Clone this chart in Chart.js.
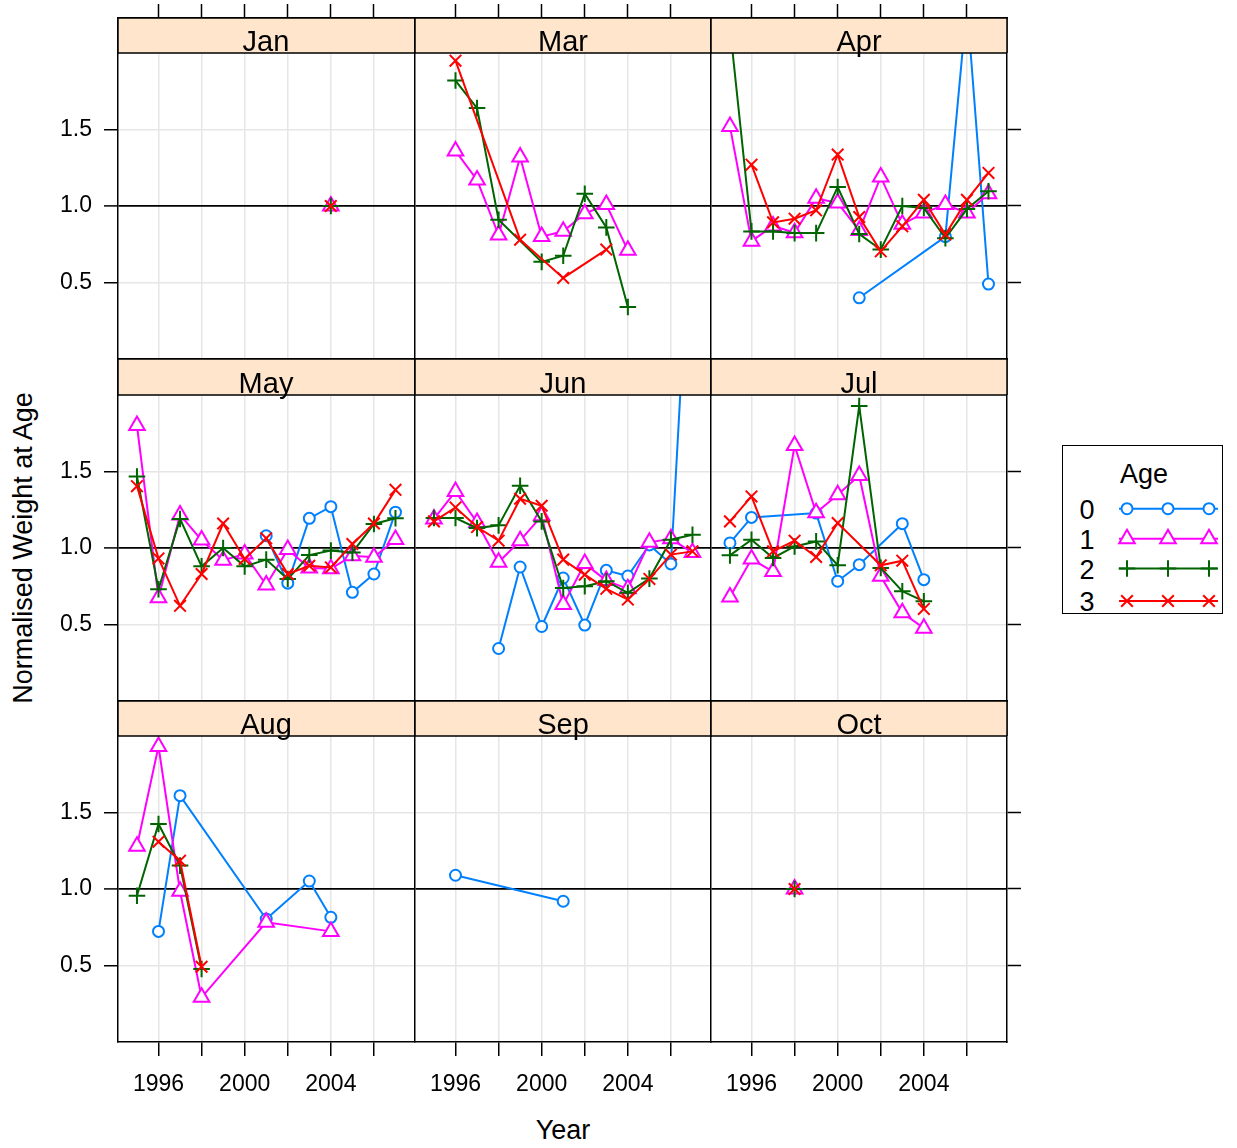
<!DOCTYPE html>
<html>
<head>
<meta charset="utf-8">
<title>Normalised Weight at Age</title>
<script src="https://cdn.jsdelivr.net/npm/chart.js@4.4.1/dist/chart.umd.min.js"></script>
<style>
  html, body { margin: 0; padding: 0; background: #fff; }
  body { width: 1237px; height: 1148px; position: relative; overflow: hidden;
         font-family: "Liberation Sans", Arial, sans-serif; color: #000; }
  .panel { position: absolute; }
  .panel canvas { position: absolute; left: 0; top: 0; }
  .title { position: absolute; font-size: 27px; white-space: nowrap; line-height: 1; }
  #legend { position: absolute; left: 1062px; top: 445px; width: 159px; height: 167px;
            border: 1.5px solid #000; }
  #legend span { position: absolute; font-size: 27px; line-height: 1; transform: translate(-50%, -50%); }
  #legend svg { position: absolute; left: 0; top: 0; overflow: visible; }
</style>
</head>
<body>

<div class="title" id="xtitle" style="left:563px; top:1130px; transform:translate(-50%,-50%);">Year</div>
<div class="title" id="ytitle" style="left:23px; top:548px; transform:translate(-50%,-50%) rotate(-90deg);">Normalised Weight at Age</div>

<div id="legend"></div>

<script>
// ---- data -------------------------------------------------------------
const years = [1995, 1996, 1997, 1998, 1999, 2000, 2001, 2002, 2003, 2004, 2005, 2006, 2007];
const months = ['Jan', 'Mar', 'Apr', 'May', 'Jun', 'Jul', 'Aug', 'Sep', 'Oct'];
const ageLabels = ['0', '1', '2', '3'];
const xTicks = [1996, 1998, 2000, 2002, 2004, 2006];
const xTickLabels = ['1996', '', '2000', '', '2004', ''];
const yTicks = [0.5, 1.0, 1.5];
const yTickLabels = ['0.5', '1.0', '1.5'];

const _ = null;
//               1995   1996   1997   1998   1999   2000   2001   2002   2003   2004   2005   2006   2007
const jan0 = [   _,     _,     _,     _,     _,     _,     _,     _,     _,     _,     _,     _,     _   ];
const jan1 = [   _,     _,     _,     _,     _,     _,     _,     _,     _,   1.00,    _,     _,     _   ];
const jan2 = [   _,     _,     _,     _,     _,     _,     _,     _,     _,   1.00,    _,     _,     _   ];
const jan3 = [   _,     _,     _,     _,     _,     _,     _,     _,     _,   1.00,    _,     _,     _   ];

const mar0 = [   _,     _,     _,     _,     _,     _,     _,     _,     _,     _,     _,     _,     _   ];
const mar1 = [   _,   1.36,  1.17,  0.81,  1.32,  0.80,  0.835, 0.95,  1.01,  0.71,    _,     _,     _   ];
const mar2 = [   _,   1.82,  1.64,  0.91,    _,   0.635, 0.675, 1.08,  0.86,  0.34,    _,     _,     _   ];
const mar3 = [   _,   1.95,    _,     _,   0.78,    _,   0.53,    _,   0.715,   _,     _,     _,     _   ];

const apr0 = [   _,     _,     _,     _,     _,     _,   0.40,    _,     _,     _,   0.80,  2.32,  0.49 ];
const apr1 = [ 1.52,  0.77,  0.87,  0.825, 1.05,  1.02,  0.84,  1.19,  0.88,  0.955, 1.01,  0.955, 1.08 ];
const apr2 = [ 2.17,  0.834, 0.834, 0.823, 0.823, 1.124, 0.817, 0.715, 1.00,  0.987, 0.79,  0.98,  1.096];
const apr3 = [   _,   1.27,  0.893, 0.917, 0.972, 1.336, 0.928, 0.704, 0.867, 1.04,  0.813, 1.04,  1.216];

const may0 = [   _,     _,     _,     _,     _,     _,   1.08,  0.77,  1.194, 1.27,  0.71,  0.83,  1.234];
const may1 = [ 1.80,  0.675, 1.216, 1.052, 0.92,  0.96,  0.758, 0.99,  0.87,  0.865, 0.95,  0.94,  1.055];
const may2 = [ 1.467, 0.73,  1.19,  0.88,  1.00,  0.88,  0.924, 0.797, 0.954, 0.983, 0.97,  1.157, 1.194];
const may3 = [ 1.404, 0.932, 0.622, 0.83,  1.16,  0.928, 1.063, 0.83,  0.884, 0.873, 1.026, 1.16,  1.38 ];

const jun0 = [   _,     _,     _,   0.343, 0.876, 0.487, 0.804, 0.496, 0.854, 0.817, 1.02,  0.896, 3.45 ];
const jun1 = [ 1.19,  1.37,  1.167, 0.907, 1.048, 1.21,  0.63,  0.898, 0.787, 0.733, 1.037, 1.06,  0.97 ];
const jun2 = [ 1.196, 1.196, 1.13,  1.148, 1.407, 1.174, 0.739, 0.75,  0.783, 0.707, 0.80,  1.054, 1.087];
const jun3 = [ 1.174, 1.265, 1.137, 1.048, 1.322, 1.276, 0.924, 0.826, 0.733, 0.663, 0.798, 0.957, 0.978];

const jul0 = [ 1.033, 1.20,    _,     _,   1.228, 0.783, 0.891,   _,   1.159, 0.793,   _,     _,     _   ];
const jul1 = [ 0.68,  0.928, 0.846, 1.67,  1.23,  1.348, 1.474, 0.815, 0.576, 0.476,   _,     _,     _   ];
const jul2 = [ 0.952, 1.054, 0.935, 1.01,  1.043, 0.887, 1.928, 0.87,  0.717, 0.652,   _,     _,     _   ];
const jul3 = [ 1.174, 1.337, 0.978, 1.048, 0.941, 1.163,   _,   0.887, 0.917, 0.602,   _,     _,     _   ];

const aug0 = [   _,   0.723, 1.61,    _,     _,     _,   0.804,   _,   1.052, 0.815,   _,     _,     _   ];
const aug1 = [ 1.279, 1.932, 0.985, 0.292,   _,     _,   0.782,   _,     _,   0.723,   _,     _,     _   ];
const aug2 = [ 0.956, 1.425, 1.153, 0.477,   _,     _,     _,     _,     _,     _,     _,     _,     _   ];
const aug3 = [   _,   1.309, 1.185, 0.492,   _,     _,     _,     _,     _,     _,     _,     _,     _   ];

const sep0 = [   _,   1.09,    _,     _,     _,     _,   0.92,    _,     _,     _,     _,     _,     _   ];
const sep1 = [   _,     _,     _,     _,     _,     _,     _,     _,     _,     _,     _,     _,     _   ];
const sep2 = [   _,     _,     _,     _,     _,     _,     _,     _,     _,     _,     _,     _,     _   ];
const sep3 = [   _,     _,     _,     _,     _,     _,     _,     _,     _,     _,     _,     _,     _   ];

const oct0 = [   _,     _,     _,     _,     _,     _,     _,     _,     _,     _,     _,     _,     _   ];
const oct1 = [   _,     _,     _,   1.00,    _,     _,     _,     _,     _,     _,     _,     _,     _   ];
const oct2 = [   _,     _,     _,   1.00,    _,     _,     _,     _,     _,     _,     _,     _,     _   ];
const oct3 = [   _,     _,     _,   1.00,    _,     _,     _,     _,     _,     _,     _,     _,     _   ];

const monthSeries = [
  [jan0, jan1, jan2, jan3], [mar0, mar1, mar2, mar3], [apr0, apr1, apr2, apr3],
  [may0, may1, may2, may3], [jun0, jun1, jun2, jun3], [jul0, jul1, jul2, jul3],
  [aug0, aug1, aug2, aug3], [sep0, sep1, sep2, sep3], [oct0, oct1, oct2, oct3]
];

// ---- styling / layout -------------------------------------------------
const FONT = '"Liberation Sans", Arial, sans-serif';
Chart.defaults.font.family = FONT;
Chart.defaults.color = '#000';

const ageStyles = [
  { color: '#0080ff', pointStyle: 'circle',   radius: 5.5, fill: '#ffffff' },
  { color: '#ff00ff', pointStyle: 'triangle', radius: 9,   fill: '#ffffff' },
  { color: '#006400', pointStyle: 'cross',    radius: 8.3, fill: '#006400' },
  { color: '#ff0000', pointStyle: 'crossRot', radius: 8.2, fill: '#ff0000' }
];

const colLeft = [118, 415, 711];
const stripTop = [18, 359, 701];
const stripH = [35, 36, 35];
const PANEL_W = 296, PLOT_H = 306;
const PX_PER_UNIT = PLOT_H / 2;
const X_MIN = 1994.12, X_MAX = 2007.86;
const ML = 110, MR = 30, MT = 18, MB = 70;
const GRID_GREY = '#e6e6e6';

// strip with the month name, drawn over the band above y = 2
const stripPlugin = {
  id: 'strip',
  afterDatasetsDraw(chart, args, opts) {
    const { ctx, chartArea } = chart;
    const yTop = chartArea.top;
    const yBot = chart.scales.y.getPixelForValue(2);
    ctx.save();
    ctx.fillStyle = '#ffe5cc';
    ctx.fillRect(chartArea.left, yTop, chartArea.right - chartArea.left, yBot - yTop);
    ctx.strokeStyle = '#000';
    ctx.lineWidth = 1.5;
    ctx.beginPath();
    ctx.moveTo(chartArea.left, yTop); ctx.lineTo(chartArea.right + (opts.last ? 0 : 1), yTop);
    ctx.moveTo(chartArea.left, yBot); ctx.lineTo(chartArea.right + (opts.last ? 0 : 1), yBot);
    ctx.moveTo(chartArea.left, yTop); ctx.lineTo(chartArea.left, yBot);
    if (opts.last) { ctx.moveTo(chartArea.right, yTop); ctx.lineTo(chartArea.right, yBot); }
    ctx.stroke();
    ctx.fillStyle = '#000';
    ctx.font = '29px ' + FONT;
    ctx.textAlign = 'center';
    ctx.textBaseline = 'alphabetic';
    ctx.fillText(opts.text, (chartArea.left + chartArea.right) / 2, yBot - 2.5);
    ctx.restore();
  }
};

function buildDatasets(series) {
  return series.map((vals, a) => {
    const st = ageStyles[a];
    const pts = [];
    vals.forEach((v, i) => { if (v !== null) pts.push({ x: years[i], y: v }); });
    return {
      label: ageLabels[a],
      data: pts,
      borderColor: st.color,
      borderWidth: 2,
      pointStyle: st.pointStyle,
      pointRadius: st.radius,
      pointBorderColor: st.color,
      pointBackgroundColor: st.fill,
      pointBorderWidth: 2,
      fill: false,
      tension: 0,
      order: 3 - a,
      clip: { left: 12, right: 12, top: 0, bottom: 12 }
    };
  });
}

// fixed axis sizes, and no extra room for label overhang
const fixHeight = h => s => { s.height = h; s.paddingLeft = 0; s.paddingRight = 0; s.paddingTop = 0; s.paddingBottom = 0; };
const fixWidth = w => s => { s.width = w; s.paddingLeft = 0; s.paddingRight = 0; s.paddingTop = 0; s.paddingBottom = 0; };

function makePanel(idx) {
  const r = Math.floor(idx / 3), c = idx % 3;
  const sh = stripH[r];
  const yMax = 2 + sh / PX_PER_UNIT;   // the strip sits above y = 2
  const W = ML + PANEL_W + MR, H = MT + sh + PLOT_H + MB;
  const div = document.createElement('div');
  div.className = 'panel';
  div.style.left = (colLeft[c] - ML) + 'px';
  div.style.top = (stripTop[r] - MT) + 'px';
  div.style.width = W + 'px';
  div.style.height = H + 'px';
  const cv = document.createElement('canvas');
  cv.width = W; cv.height = H;
  cv.style.width = W + 'px'; cv.style.height = H + 'px';
  div.appendChild(cv);
  document.body.appendChild(div);

  const xTickSet = s => { s.ticks = xTicks.map(v => ({ value: v })); };
  const yTickSet = s => { s.ticks = yTicks.map(v => ({ value: v })); };
  const border = { display: true, color: '#000', width: 1.5 };

  new Chart(cv, {
    type: 'line',
    data: { datasets: buildDatasets(monthSeries[idx]) },
    options: {
      responsive: false,
      animation: false,
      devicePixelRatio: 1,
      events: [],
      layout: { padding: 0 },
      plugins: {
        legend: { display: false },
        tooltip: { enabled: false },
        strip: { text: months[idx], last: c === 2 }
      },
      scales: {
        x: {
          type: 'linear', position: 'bottom', min: X_MIN, max: X_MAX, z: -1,
          afterBuildTicks: xTickSet,
          afterFit: fixHeight(MB),
          ticks: {
            display: r === 2, autoSkip: false, maxRotation: 0, padding: 15,
            font: { size: 23 }, color: '#000',
            callback: v => { const k = xTicks.indexOf(v); return k >= 0 ? xTickLabels[k] : ''; }
          },
          grid: { drawOnChartArea: true, drawTicks: r === 2, tickLength: 14,
                  color: GRID_GREY, tickColor: '#000', lineWidth: 1.5, tickWidth: 1.5 },
          border: border
        },
        xTop: {
          type: 'linear', position: 'top', min: X_MIN, max: X_MAX,
          afterBuildTicks: xTickSet,
          afterFit: fixHeight(MT),
          ticks: { display: false },
          grid: { drawOnChartArea: false, drawTicks: r === 0, tickLength: 14,
                  tickColor: '#000', tickWidth: 1.5 },
          border: border
        },
        y: {
          type: 'linear', position: 'left', min: 0, max: yMax,
          afterBuildTicks: yTickSet,
          afterFit: fixWidth(ML),
          ticks: {
            display: c === 0, padding: 12, font: { size: 23 }, color: '#000',
            callback: v => { const k = yTicks.indexOf(v); return k >= 0 ? yTickLabels[k] : ''; }
          },
          grid: {
            drawOnChartArea: true, drawTicks: c === 0, tickLength: 14,
            color: ctx => (ctx.tick && ctx.tick.value === 1) ? '#000' : GRID_GREY,
            lineWidth: ctx => (ctx.tick && ctx.tick.value === 1) ? 1.8 : 1.5,
            tickColor: '#000', tickWidth: 1.5
          },
          border: border
        },
        yRight: {
          type: 'linear', position: 'right', min: 0, max: yMax,
          afterBuildTicks: yTickSet,
          afterFit: fixWidth(MR),
          ticks: { display: false },
          grid: { drawOnChartArea: false, drawTicks: c === 2, tickLength: 14,
                  tickColor: '#000', tickWidth: 1.5 },
          border: { display: c === 2, color: '#000', width: 1.5 }
        }
      }
    },
    plugins: [stripPlugin]
  });
}

months.forEach((m, i) => makePanel(i));

// ---- key ----------------------------------------------------------------
(function buildLegend() {
  const lg = document.getElementById('legend');
  const ox = 1062, oy = 445;              // key box origin on the page
  const title = document.createElement('span');
  title.textContent = 'Age';
  title.style.left = (1143 - ox) + 'px';
  title.style.top = (473 - oy) + 'px';
  lg.appendChild(title);

  const rowY = [507.7, 537.7, 567.5, 600];
  const markX = [1126, 1167, 1208];
  const NS = 'http://www.w3.org/2000/svg';
  const svg = document.createElementNS(NS, 'svg');
  svg.setAttribute('width', 160); svg.setAttribute('height', 170);
  lg.appendChild(svg);

  ageLabels.forEach((lab, a) => {
    const st = ageStyles[a];
    const y = rowY[a] - oy;
    const t = document.createElement('span');
    t.textContent = lab;
    t.style.left = (1086 - ox) + 'px';
    t.style.top = (y + 1) + 'px';
    lg.appendChild(t);

    const ln = document.createElementNS(NS, 'line');
    ln.setAttribute('x1', 1118 - ox); ln.setAttribute('x2', 1217 - ox);
    ln.setAttribute('y1', y); ln.setAttribute('y2', y);
    ln.setAttribute('stroke', st.color); ln.setAttribute('stroke-width', 2);
    svg.appendChild(ln);

    markX.forEach(mx => {
      const x = mx - ox;
      let el;
      if (st.pointStyle === 'circle') {
        el = document.createElementNS(NS, 'circle');
        el.setAttribute('cx', x); el.setAttribute('cy', y); el.setAttribute('r', st.radius);
        el.setAttribute('fill', '#fff');
      } else if (st.pointStyle === 'triangle') {
        const rr = st.radius, hw = rr * Math.sin(Math.PI / 3);
        el = document.createElementNS(NS, 'polygon');
        el.setAttribute('points', `${x},${y - rr} ${x + hw},${y + rr / 2} ${x - hw},${y + rr / 2}`);
        el.setAttribute('fill', '#fff');
      } else {
        const d = st.pointStyle === 'cross' ? st.radius : st.radius * Math.SQRT1_2;
        el = document.createElementNS(NS, 'path');
        el.setAttribute('d', st.pointStyle === 'cross'
          ? `M${x - d},${y}L${x + d},${y}M${x},${y - d}L${x},${y + d}`
          : `M${x - d},${y - d}L${x + d},${y + d}M${x + d},${y - d}L${x - d},${y + d}`);
        el.setAttribute('fill', 'none');
      }
      el.setAttribute('stroke', st.color);
      el.setAttribute('stroke-width', 2);
      svg.appendChild(el);
    });
  });
})();
</script>
</body>
</html>
